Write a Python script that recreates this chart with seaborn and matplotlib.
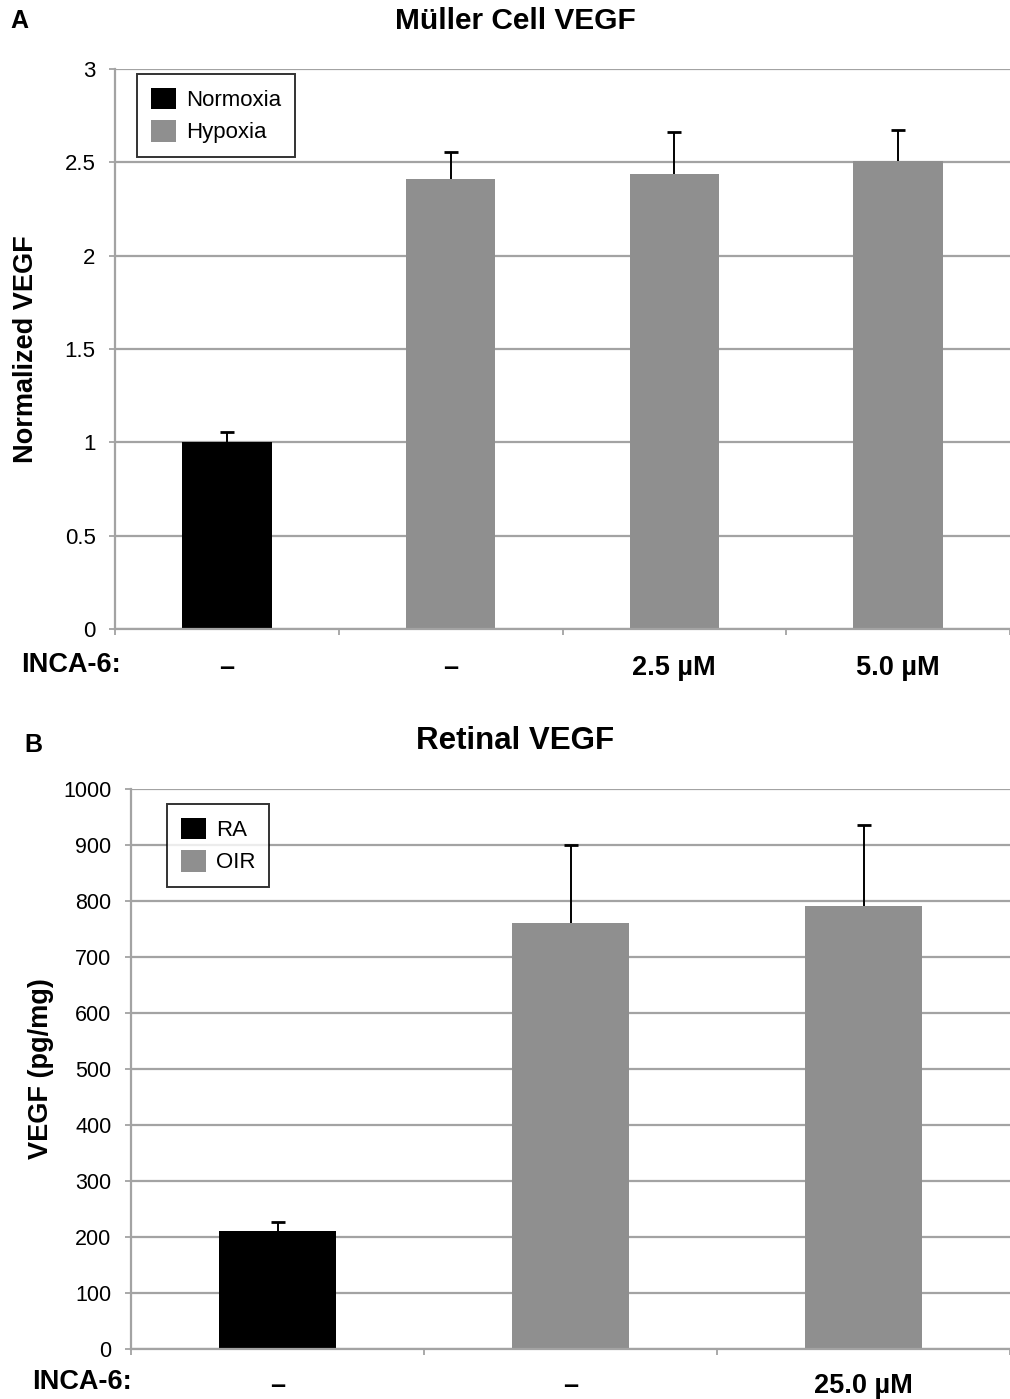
import matplotlib
matplotlib.use("Agg")
import matplotlib.pyplot as plt
import seaborn as sns
import pandas as pd
from matplotlib.patches import Patch

# Panel A: Müller cell VEGF
a_groups = ["a1", "a2", "a3", "a4"]
a_ticklabels = ["–", "–", "2.5 µM", "5.0 µM"]
a_condition = ["Normoxia", "Hypoxia", "Hypoxia", "Hypoxia"]
a_values = [1.0, 2.41, 2.437, 2.505]
a_err = [0.055, 0.143, 0.223, 0.17]
a_yticks = [0, 0.5, 1, 1.5, 2, 2.5, 3]

# Panel B: retinal VEGF
b_groups = ["b1", "b2", "b3"]
b_ticklabels = ["–", "–", "25.0 µM"]
b_condition = ["RA", "OIR", "OIR"]
b_values = [211, 761, 792]
b_err = [16, 140, 145]
b_yticks = list(range(0, 1001, 100))

BLACK = "#000000"
GREY = "#8f8f8f"
GRID = "#a3a3a3"

sns.set_theme(style="white")
plt.rcParams["font.family"] = ["Liberation Sans", "DejaVu Sans"]
plt.rcParams["text.color"] = "black"
plt.rcParams["axes.labelcolor"] = "black"
plt.rcParams["xtick.labelcolor"] = "black"
plt.rcParams["ytick.labelcolor"] = "black"

W, H = 1010, 1399
fig = plt.figure(figsize=(W / 100, H / 100), dpi=100)


def px(x, y):
    """Pixel position (from top-left) to figure fraction."""
    return x / W, 1 - y / H


def panel(left, top, spacing, groups, ticklabels, cond, vals, errs, palette,
          ymax, yticks, ytick_size, xpad, ylabel, ylabel_xy, title, title_xy,
          title_size, letter, letter_xy, inca_xy, legend_xy):
    height = 560
    ax = fig.add_axes([left / W, 1 - (top + height) / H, 1 - left / W, height / H])
    df = pd.DataFrame({"group": groups, "value": vals, "condition": cond})
    sns.barplot(data=df, x="group", y="value", hue="condition", order=groups,
                palette=palette, dodge=False, width=0.4, ax=ax,
                saturation=1, legend=False, edgecolor="none", linewidth=0)
    # one-sided (upper) error bars
    xs = list(range(len(groups)))
    tops = [v + e for v, e in zip(vals, errs)]
    ax.vlines(xs, vals, tops, color="black", linewidth=1.4, zorder=5)
    ax.plot(xs, tops, ls="none", marker="_", ms=9.5, mew=2.0, color="black",
            zorder=6)
    n = len(groups)
    ax.set_xlim(-0.5, (W - left) / spacing - 0.5)
    ax.set_ylim(0, ymax)
    ax.set_yticks(yticks)
    ax.set_yticklabels([f"{t:g}" for t in yticks], fontsize=ytick_size)
    ax.set_xticks(xs)
    ax.set_xticklabels(ticklabels, fontsize=19.5, fontweight="bold")
    ax.set_xticks([i - 0.5 for i in range(n + 1)], minor=True)
    ax.tick_params(axis="x", which="major", length=0, pad=xpad)
    ax.tick_params(axis="x", which="minor", length=4.5, width=1.3, color=GRID,
                   direction="out", bottom=True)
    ax.tick_params(axis="y", length=4.5, width=1.3, color=GRID, direction="out",
                   left=True, pad=9.5)
    ax.yaxis.grid(True, color=GRID, linewidth=1.6)
    ax.set_axisbelow(True)
    for s in ["top", "right"]:
        ax.spines[s].set_visible(False)
    for s in ["left", "bottom"]:
        ax.spines[s].set_color(GRID)
        ax.spines[s].set_linewidth(1.6)
    ax.set_xlabel("")
    ax.set_ylabel("")
    fig.text(*px(*ylabel_xy), ylabel, rotation=90, ha="center", va="center",
             fontsize=19.5, fontweight="bold")
    fig.text(*px(*title_xy), title, ha="center", va="center",
             fontsize=title_size, fontweight="bold")
    fig.text(*px(*letter_xy), letter, ha="center", va="center",
             fontsize=18, fontweight="bold")
    fig.text(*px(*inca_xy), "INCA-6:", ha="center", va="center",
             fontsize=19.5, fontweight="bold")
    labels = list(dict.fromkeys(cond))
    handles = [Patch(facecolor=palette[l], edgecolor="none") for l in labels]
    anchor = ((legend_xy[0] - left) / (W - left), 1 - (legend_xy[1] - top) / height)
    leg = ax.legend(handles, labels, loc="upper left", bbox_to_anchor=anchor,
                    fontsize=16, frameon=True, fancybox=False,
                    edgecolor="black", handlelength=1.12, handleheight=1.12,
                    handletextpad=0.45, borderpad=0.62, labelspacing=0.4,
                    borderaxespad=0)
    leg.get_frame().set_linewidth(1.4)
    return ax


panel(115, 69, 226, a_groups, a_ticklabels, a_condition, a_values, a_err,
      {"Normoxia": BLACK, "Hypoxia": GREY}, 3, a_yticks, 16, 19,
      "Normalized VEGF", (26, 349), "Müller Cell VEGF", (515, 21), 21.5,
      "A", (19, 21), (71, 665), (137, 74))

panel(131, 789.3, 294, b_groups, b_ticklabels, b_condition, b_values, b_err,
      {"RA": BLACK, "OIR": GREY}, 1000, b_yticks, 15.5, 17,
      "VEGF (pg/mg)", (41, 1069), "Retinal VEGF", (515, 741), 22.5,
      "B", (33, 745), (82, 1382), (167, 804))

fig.savefig("out.png", dpi=100, facecolor="white")
